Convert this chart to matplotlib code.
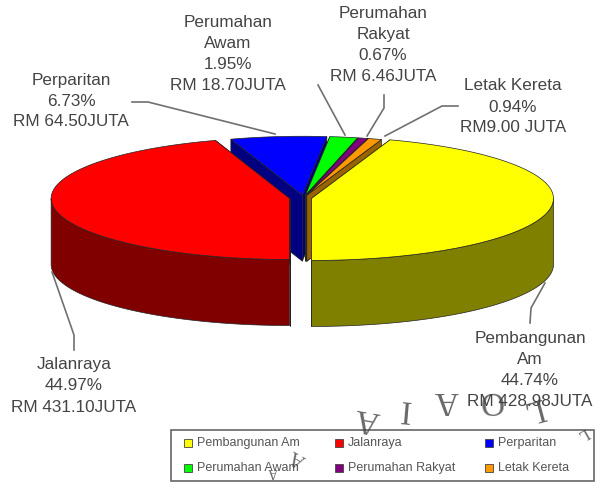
import numpy as np
import matplotlib
matplotlib.use('Agg')
import matplotlib.pyplot as plt
from matplotlib.patches import Polygon, Rectangle

plt.rcParams['font.family'] = ['Liberation Sans', 'DejaVu Sans']

# Data
names = ['Pembangunan Am', 'Jalanraya', 'Perparitan', 'Perumahan Awam', 'Perumahan Rakyat', 'Letak Kereta']
shares = [44.74, 44.97, 6.73, 1.95, 0.67, 0.94]
amounts = ['RM 428.98JUTA', 'RM 431.10JUTA', 'RM 64.50JUTA', 'RM 18.70JUTA', 'RM 6.46JUTA', 'RM9.00 JUTA']
top_colors = ['#ffff00', '#ff0000', '#0000ff', '#00ff00', '#800080', '#ff9900']
side_colors = ['#808000', '#800000', '#000080', '#008000', '#400040', '#996300']

# Pie geometry, in pixels
cx, cy = 300.5, 198
rx, ry = 242, 62
depth = 66
explode = 0.046
# the back slices look smaller in the original, it has some perspective
radius_scale = [1, 0.985, 0.95, 0.95, 0.95, 0.95]
x_shift = [0, 0, 3, 3, 3, 3]


def arc(a1, a2, ox, oy, s=1):
    t = np.radians(np.linspace(a1, a2, 80))
    return np.column_stack([ox + s * rx * np.cos(t), oy - s * ry * np.sin(t)])


fig = plt.figure(figsize=(5.95, 4.82), dpi=100)
ax = fig.add_axes([0, 0, 1, 1])
ax.set_xlim(0, 595)
ax.set_ylim(482, 0)
ax.axis('off')

# slices go clockwise, yellow first and ending at the front of the pie
start = -90 + shares[0] * 360 / sum(shares)
angles = start - np.cumsum([0] + shares) * 360 / sum(shares)
slices = []
for i in range(len(shares)):
    a1, a2 = angles[i], angles[i + 1]
    mid = np.radians((a1 + a2) / 2)
    ox = cx + explode * rx * np.cos(mid) + x_shift[i]
    oy = cy - explode * ry * np.sin(mid)
    slices.append((i, a1, a2, ox, oy))

edge = dict(edgecolor='#222222', linewidth=0.5)


def draw_sides(i, a1, a2, ox, oy):
    s = radius_scale[i]
    # the two cut faces
    for a in (a1, a2):
        p = arc(a, a, ox, oy, s)[0]
        face = [(ox, oy), p, p + [0, depth], (ox, oy + depth)]
        ax.add_patch(Polygon(face, facecolor=side_colors[i], **edge))
    # outer wall, only the part at the front
    lo = a2 % 360
    hi = lo + (a1 - a2)
    b1, b2 = max(lo, 180), min(hi, 360)
    if b2 > b1:
        rim = arc(b1, b2, ox, oy, s)
        wall = np.vstack([rim, rim[::-1] + [0, depth]])
        ax.add_patch(Polygon(wall, facecolor=side_colors[i], **edge))


def draw_top(i, a1, a2, ox, oy):
    pts = np.vstack([[(ox, oy)], arc(a1, a2, ox, oy, radius_scale[i])])
    ax.add_patch(Polygon(pts, facecolor=top_colors[i], **edge))


# back slices first, the two big ones go over them
order = [2, 3, 4, 5]
for k in order:
    draw_sides(*slices[k])
for k in order:
    draw_top(*slices[k])
for k in [1, 0]:
    draw_sides(*slices[k])
    draw_top(*slices[k])

# Labels
label_pos = [(530, 370), (74, 386), (71, 101), (228, 54), (383, 45), (513, 107)]
label_names = ['Pembangunan\nAm', 'Jalanraya', 'Perparitan', 'Perumahan\nAwam', 'Perumahan\nRakyat', 'Letak Kereta']
for i in range(len(names)):
    s = label_names[i] + '\n' + ('%.2f%%' % shares[i]) + '\n' + amounts[i]
    ax.text(label_pos[i][0], label_pos[i][1], s, ha='center', va='center', fontsize=12.3,
            linespacing=1.5, color='#444444')

# Leader lines
leaders = [((545, 283), (531, 308), (530, 323)), ((52, 272), (74, 335), (74, 350)),
           ((132, 102), (148, 102), (275, 134)), ((318, 85), (345, 135)),
           ((384, 95), (384, 108), (367, 136)), ((458, 106), (442, 106), (385, 136))]
for line in leaders:
    xs, ys = zip(*line)
    ax.plot(xs, ys, color='#707070', lw=1.2, zorder=1)

# Legend
ax.add_patch(Rectangle((171, 430), 423, 51, facecolor='white', edgecolor='#666666', lw=1.2))
leg_x = [188, 339, 489]
leg_y = [443, 468]
for i in range(len(names)):
    x = leg_x[i % 3]
    y = leg_y[i // 3]
    ax.add_patch(Rectangle((x - 4, y - 4), 8, 8, facecolor=top_colors[i], edgecolor='#444444', lw=0.6))
    ax.text(x + 9, y, names[i], ha='left', va='center', fontsize=9, color='#555555')

# Watermark letters, upside down over the bottom
wm = [('A', 367, 419, 170, 24), ('I', 404, 409, 175, 24), ('A', 447, 400, 180, 24), ('O', 490, 400, 185, 24),
      ('L', 533, 409, 195, 24), ('A', 298, 457, 150, 15), ('A', 273, 471, 180, 10), ('L', 583, 433, 210, 12)]
for c, x, y, r, size in wm:
    ax.text(x, y, c, ha='center', va='center', fontsize=size, rotation=r, color='#444444', alpha=0.8,
            fontfamily='Liberation Serif')

fig.savefig('out.png', dpi=100)
